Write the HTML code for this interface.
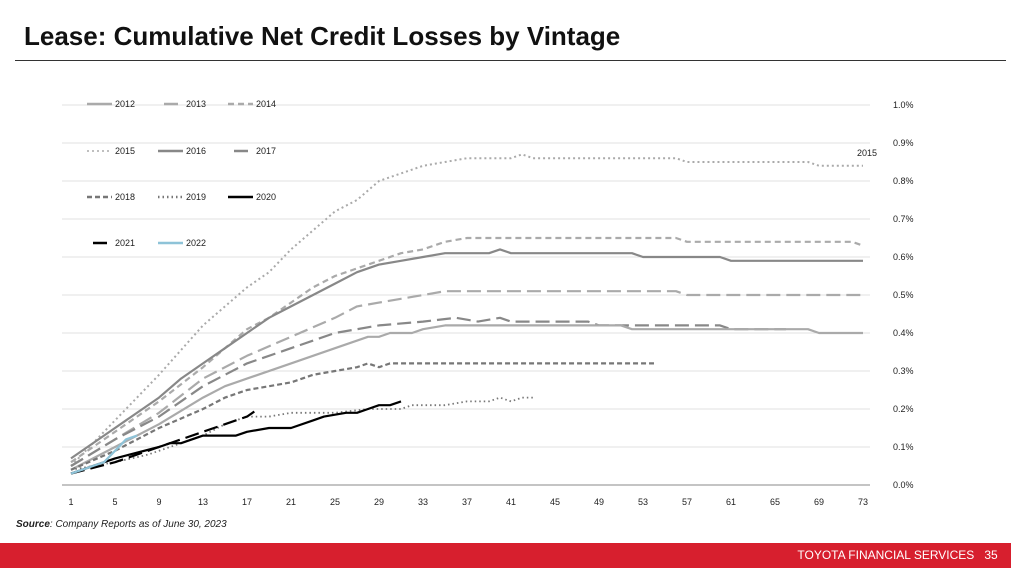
<!DOCTYPE html>
<html><head><meta charset="utf-8"><style>
body{margin:0;width:1011px;height:568px;overflow:hidden;background:#fff;font-family:"Liberation Sans",sans-serif;position:relative}
.t{position:absolute;left:24px;top:21px;font-size:26px;font-weight:bold;color:#111;letter-spacing:0px}
.hr{position:absolute;left:15px;top:60px;width:991px;height:1px;background:#333}
.src{position:absolute;left:16px;top:519px;font-size:10px;font-style:italic;color:#222}
.foot{position:absolute;left:0;top:543px;width:1011px;height:25px;background:#d71f2e;color:#fff;font-size:12px;line-height:25px;text-align:right}
</style></head><body>
<div class="t">Lease: Cumulative Net Credit Losses by Vintage</div>
<div class="hr"></div>
<svg width="1011" height="568" style="position:absolute;left:0;top:0">
<g stroke="#e2e2e2" stroke-width="1">
<line x1="62" x2="870" y1="105" y2="105"/><line x1="62" x2="870" y1="143" y2="143"/><line x1="62" x2="870" y1="181" y2="181"/><line x1="62" x2="870" y1="219" y2="219"/><line x1="62" x2="870" y1="257" y2="257"/><line x1="62" x2="870" y1="295" y2="295"/><line x1="62" x2="870" y1="333" y2="333"/><line x1="62" x2="870" y1="371" y2="371"/><line x1="62" x2="870" y1="409" y2="409"/><line x1="62" x2="870" y1="447" y2="447"/>
</g>
<line x1="62" x2="870" y1="485" y2="485" stroke="#888" stroke-width="1"/>
<g font-size="9" fill="#222" text-anchor="start">
<text x="893" y="108">1.0%</text><text x="893" y="146">0.9%</text><text x="893" y="184">0.8%</text><text x="893" y="222">0.7%</text><text x="893" y="260">0.6%</text><text x="893" y="298">0.5%</text><text x="893" y="336">0.4%</text><text x="893" y="374">0.3%</text><text x="893" y="412">0.2%</text><text x="893" y="450">0.1%</text><text x="893" y="488">0.0%</text>
</g>
<g font-size="9" fill="#222" text-anchor="middle" id="xl"></g>
<text x="857" y="156" font-size="9" fill="#222">2015</text>
<g id="series" fill="none" stroke-linejoin="round"></g>
<g font-size="9" fill="#222" id="leg"></g>
</svg>
<div class="src"><b>Source</b>: Company Reports as of June 30, 2023</div>
<div class="foot">TOYOTA FINANCIAL SERVICES&nbsp;&nbsp;&nbsp;35&nbsp;&nbsp;&nbsp;&nbsp;</div>
<script>
var NS="http://www.w3.org/2000/svg";
function X(m){return 71+(m-1)*11}function Y(v){return 485-v*380}
var xl=document.getElementById('xl');
for(var m=1;m<=73;m+=4){var t=document.createElementNS(NS,'text');t.setAttribute('x',X(m));t.setAttribute('y',505);t.textContent=m;xl.appendChild(t);}
var S=[
["#aaa",2,"2,3",[[1,.05],[5,.17],[9,.29],[13,.42],[17,.52],[19,.56],[21,.62],[23,.67],[25,.72],[27,.75],[29,.80],[31,.82],[33,.84],[35,.85],[37,.86],[41,.86],[42,.87],[43,.86],[56,.86],[57,.85],[68,.85],[69,.84],[73,.84]]],
["#aaa",2.2,"6,4",[[1,.06],[5,.14],[9,.22],[13,.31],[17,.41],[19,.44],[21,.48],[23,.52],[25,.55],[27,.57],[29,.59],[31,.61],[33,.62],[35,.64],[37,.65],[56,.65],[57,.64],[72,.64],[73,.63]]],
["#888",2.2,"",[[1,.07],[5,.15],[9,.23],[11,.28],[13,.32],[15,.36],[17,.40],[19,.44],[21,.47],[23,.50],[25,.53],[27,.56],[29,.58],[31,.59],[33,.60],[35,.61],[39,.61],[40,.62],[41,.61],[52,.61],[53,.60],[60,.60],[61,.59],[73,.59]]],
["#aaa",2.2,"14,6",[[1,.05],[5,.12],[9,.19],[13,.28],[17,.34],[21,.39],[25,.44],[27,.47],[29,.48],[31,.49],[35,.51],[56,.51],[57,.50],[73,.50]]],
["#888",2.2,"14,6",[[1,.05],[5,.12],[9,.18],[13,.26],[17,.32],[21,.36],[25,.40],[27,.41],[29,.42],[33,.43],[36,.44],[38,.43],[40,.44],[41,.43],[48,.43],[49,.42],[60,.42],[61,.41],[66,.41]]],
["#aaa",2.2,"",[[1,.04],[5,.10],[9,.16],[13,.23],[15,.26],[17,.28],[21,.32],[25,.36],[28,.39],[29,.39],[30,.40],[32,.40],[33,.41],[35,.42],[51,.42],[52,.41],[68,.41],[69,.40],[73,.40]]],
["#777",2.2,"5,3",[[1,.04],[5,.09],[9,.15],[13,.20],[15,.23],[17,.25],[19,.26],[21,.27],[23,.29],[25,.30],[27,.31],[28,.32],[29,.31],[30,.32],[54,.32]]],
["#777",1.8,"1.5,3",[[1,.04],[5,.06],[8,.08],[10,.10],[13,.13],[15,.16],[17,.18],[19,.18],[21,.19],[25,.19],[28,.20],[31,.20],[32,.21],[35,.21],[37,.22],[39,.22],[40,.23],[41,.22],[42,.23],[43,.23]]],
["#000",2.2,"",[[1,.03],[5,.07],[9,.10],[10,.11],[11,.11],[13,.13],[16,.13],[17,.14],[19,.15],[21,.15],[23,.17],[24,.18],[26,.19],[27,.19],[28,.20],[29,.21],[30,.21],[31,.22]]],
["#000",2.2,"14,6",[[1,.03],[5,.06],[9,.10],[13,.14],[15,.16],[17,.18],[18,.20]]],
["#8ec3d8",2.2,"",[[1,.03],[2,.04],[3,.05],[4,.06],[5,.09],[6,.12],[7,.13]]]
];
var g=document.getElementById('series');
S.forEach(function(s){var p=document.createElementNS(NS,'polyline');p.setAttribute('points',s[3].map(function(q){return X(q[0])+','+Y(q[1])}).join(' '));p.setAttribute('stroke',s[0]);p.setAttribute('stroke-width',s[1]);if(s[2])p.setAttribute('stroke-dasharray',s[2]);g.appendChild(p);});
var L=[["2012",87,107,5],["2013",158,107,3],["2014",228,107,1],["2015",87,154,0],["2016",158,154,2],["2017",228,154,4],["2018",87,200,6],["2019",158,200,7],["2020",228,200,8],["2021",87,246,9],["2022",158,246,10]];
var lg=document.getElementById('leg');
L.forEach(function(l){var s=S[l[3]];var ln=document.createElementNS(NS,'line');ln.setAttribute('x1',l[1]);ln.setAttribute('x2',l[1]+25);ln.setAttribute('y1',l[2]-3);ln.setAttribute('y2',l[2]-3);ln.setAttribute('stroke',s[0]);ln.setAttribute('stroke-width',2.5);
if(l[3]===0){ln.setAttribute('stroke-dasharray','2,3');ln.setAttribute('stroke-width',1.5);}
else if(s[2]==="14,6"){ln.setAttribute('x1',l[1]+6);ln.setAttribute('x2',l[1]+20);}
else if(s[2])ln.setAttribute('stroke-dasharray',s[2]);
lg.appendChild(ln);var t=document.createElementNS(NS,'text');t.setAttribute('x',l[1]+28);t.setAttribute('y',l[2]);t.textContent=l[0];lg.appendChild(t);});
</script>
</body></html>
